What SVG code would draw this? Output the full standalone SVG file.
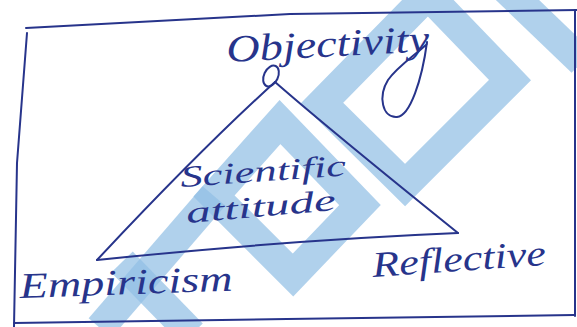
<svg xmlns="http://www.w3.org/2000/svg" width="577" height="327" viewBox="0 0 577 327">
  <style>
    .wm { fill: none; stroke: #92bfe4; stroke-width: 30; stroke-linecap: butt; stroke-linejoin: miter; opacity: 0.72; }
    .ink { fill: none; stroke: #27348b; stroke-width: 2; stroke-linecap: round; stroke-linejoin: round; }
    .txt { font-family: "Liberation Serif", "DejaVu Serif", serif; font-style: italic; fill: #27348b; }
  </style>
  <rect x="0" y="0" width="577" height="327" fill="#ffffff"/>

  <g id="watermark">
    <polygon class="wm" points="428,-5 322,103 405,185 510,80"/>
    <polygon class="wm" points="280,122 214,196 293,275 360,205"/>
    <polyline class="wm" points="214,196 100,328"/>
    <polyline class="wm" points="122,262 192,334"/>
    <polyline class="wm" points="505,-12 582,62" opacity="0.55"/>
  </g>

  <g id="frame">
    <path class="ink" d="M26,28 L290,14 L577,10"/>
    <path class="ink" d="M27,33 L17,163 L14,327" stroke-width="2.4"/>
    <path class="ink" d="M14,323 L287,319 L574,315"/>
    <path class="ink" d="M575,10 L575,316"/>
  </g>

  <g id="connectors">
    <path class="ink" d="M275,82 Q 200,150 97,260"/>
    <path class="ink" d="M275,82 Q 330,130 458,233"/>
    <path class="ink" d="M97,260 Q 290,240 458,233"/>
  </g>

  <g id="node-objectivity">
    <ellipse class="ink" cx="271" cy="76" rx="7" ry="11" transform="rotate(25 271 76)"/>
    <path class="ink" d="M427,42 C 422,80 410,116 397,117 C 382,118 378,96 388,80 C 398,66 414,56 427,44"/>
    <text class="txt" x="227" y="62" font-size="38" textLength="203" lengthAdjust="spacingAndGlyphs" transform="rotate(-3 227 62)">Objectivity</text>
  </g>

  <g id="node-scientific-attitude">
    <text class="txt" x="181" y="187" font-size="30" textLength="166" lengthAdjust="spacingAndGlyphs" transform="rotate(-4 181 187)">Scientific</text>
    <text class="txt" x="187" y="223" font-size="30" textLength="150" lengthAdjust="spacingAndGlyphs" transform="rotate(-5 187 223)">attitude</text>
  </g>

  <g id="node-empiricism">
    <text class="txt" x="20" y="298" font-size="36" textLength="213" lengthAdjust="spacingAndGlyphs" transform="rotate(-2 20 298)">Empiricism</text>
  </g>

  <g id="node-reflective">
    <text class="txt" x="373" y="277" font-size="36" textLength="174" lengthAdjust="spacingAndGlyphs" transform="rotate(-4 373 277)">Reflective</text>
  </g>
</svg>
